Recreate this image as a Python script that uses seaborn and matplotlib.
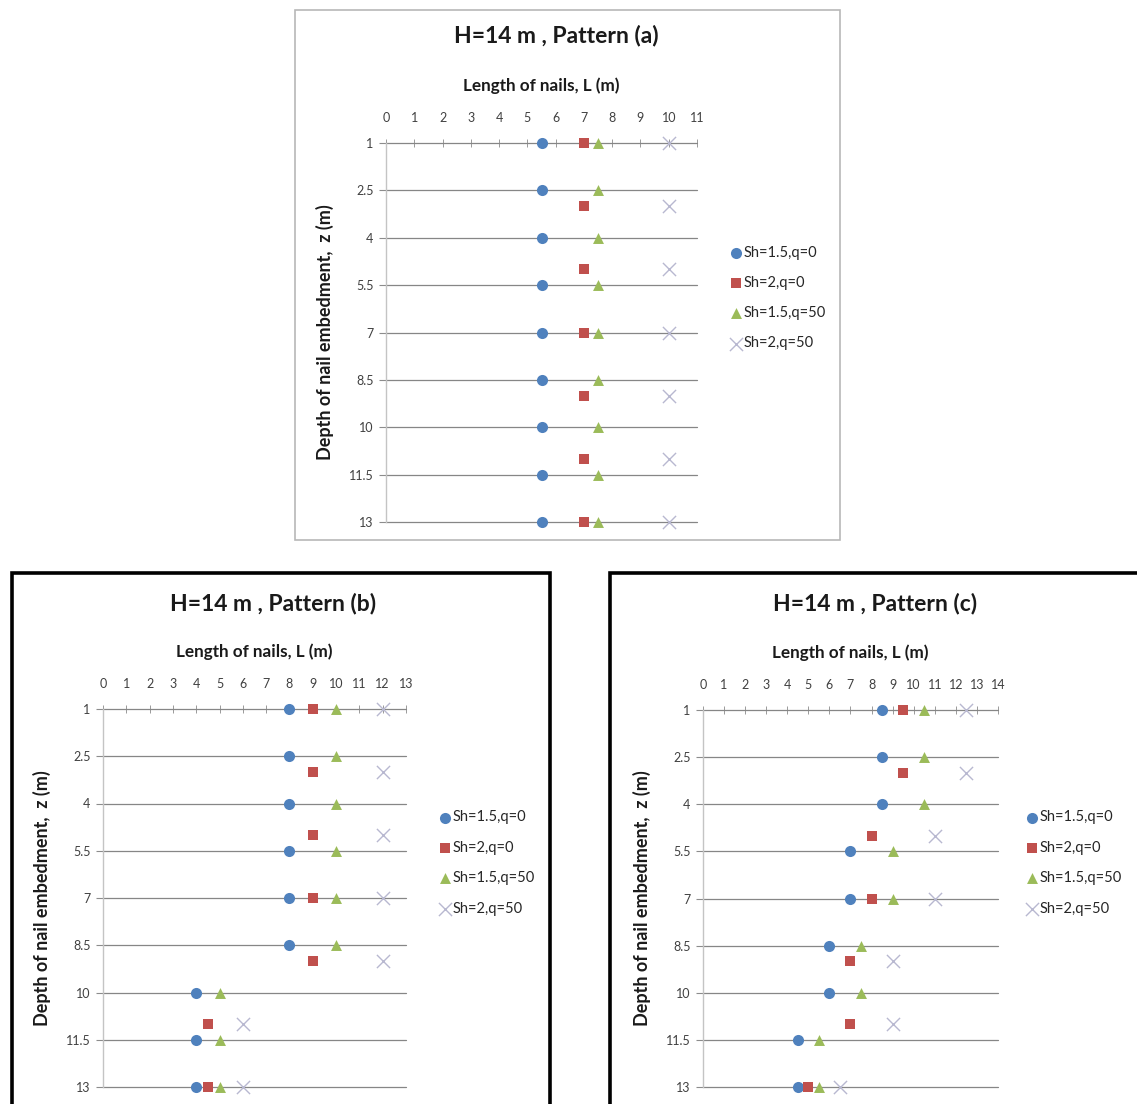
import numpy as np
import pandas as pd
import matplotlib
matplotlib.use('Agg')
import matplotlib.pyplot as plt
from matplotlib.patches import Rectangle
from matplotlib.ticker import FuncFormatter
import seaborn as sns

sns.set_theme(style='white')
plt.rcParams['font.family'] = ['Lato', 'DejaVu Sans']

# depths of the nails (m)
depth_sh15 = [1, 2.5, 4, 5.5, 7, 8.5, 10, 11.5, 13]
depth_sh2 = [1, 3, 5, 7, 9, 11, 13]

# nail lengths (m), pattern (a)
a_sh15_q0 = [5.5, 5.5, 5.5, 5.5, 5.5, 5.5, 5.5, 5.5, 5.5]
a_sh2_q0 = [7, 7, 7, 7, 7, 7, 7]
a_sh15_q50 = [7.5, 7.5, 7.5, 7.5, 7.5, 7.5, 7.5, 7.5, 7.5]
a_sh2_q50 = [10, 10, 10, 10, 10, 10, 10]

# pattern (b)
b_sh15_q0 = [8, 8, 8, 8, 8, 8, 4, 4, 4]
b_sh2_q0 = [9, 9, 9, 9, 9, 4.5, 4.5]
b_sh15_q50 = [10, 10, 10, 10, 10, 10, 5, 5, 5]
b_sh2_q50 = [12, 12, 12, 12, 12, 6, 6]

# pattern (c)
c_sh15_q0 = [8.5, 8.5, 8.5, 7, 7, 6, 6, 4.5, 4.5]
c_sh2_q0 = [9.5, 9.5, 8, 8, 7, 7, 5]
c_sh15_q50 = [10.5, 10.5, 10.5, 9, 9, 7.5, 7.5, 5.5, 5.5]
c_sh2_q50 = [12.5, 12.5, 11, 11, 9, 9, 6.5]

series_labels = ['Sh=1.5,q=0', 'Sh=2,q=0', 'Sh=1.5,q=50', 'Sh=2,q=50']
series_depths = [depth_sh15, depth_sh2, depth_sh15, depth_sh2]
series_style = [
    dict(marker='o', color='#4F81BD', s=64, linewidth=0),
    dict(marker='s', color='#C0504D', s=44, linewidth=0),
    dict(marker='^', color='#9BBB59', s=62, linewidth=0),
    dict(marker='x', color='#B8B8D0', s=90, linewidth=1.0),
]

W, H = 1137, 1104


def rect(l, t, r, b):
    return [l / W, 1 - b / H, (r - l) / W, (b - t) / H]


panels = [
    dict(title='H=14 m , Pattern (a)', title_xy=(556, 35), xmax=11,
         axes=(386, 143, 697, 522), legend_xy=(732, 298),
         lengths=[a_sh15_q0, a_sh2_q0, a_sh15_q50, a_sh2_q50]),
    dict(title='H=14 m , Pattern (b)', title_xy=(273, 604), xmax=13,
         axes=(103, 709, 406, 1087), legend_xy=(441, 863),
         lengths=[b_sh15_q0, b_sh2_q0, b_sh15_q50, b_sh2_q50]),
    dict(title='H=14 m , Pattern (c)', title_xy=(875, 604), xmax=14,
         axes=(703, 710, 998, 1087), legend_xy=(1028, 863),
         lengths=[c_sh15_q0, c_sh2_q0, c_sh15_q50, c_sh2_q50]),
]

fig = plt.figure(figsize=(W / 100, H / 100), dpi=100)
fig.patch.set_facecolor('white')

# chart frames
fig.patches.append(Rectangle((295 / W, 1 - 540 / H), 545 / W, 530 / H, transform=fig.transFigure,
                             facecolor='white', edgecolor='#b8b8b8', lw=1.2, zorder=-5))
fig.patches.append(Rectangle((12 / W, 1 - 1130 / H), 538 / W, 557 / H, transform=fig.transFigure,
                             facecolor='white', edgecolor='black', lw=2.6, zorder=-5))
fig.patches.append(Rectangle((610 / W, 1 - 1130 / H), 560 / W, 557 / H, transform=fig.transFigure,
                             facecolor='white', edgecolor='black', lw=2.6, zorder=-5))

for p in panels:
    l, t, r, b = p['axes']
    ax = fig.add_axes(rect(l, t, r, b))
    ax.set_zorder(2)
    ax.patch.set_alpha(0)
    for lab, dep, lens, st in zip(series_labels, series_depths, p['lengths'], series_style):
        df = pd.DataFrame({'L': lens, 'z': dep})
        sns.scatterplot(data=df, x='L', y='z', label=lab, ax=ax, clip_on=False, zorder=5, **st)

    ax.set_xlim(0, p['xmax'])
    ax.set_ylim(13, 1)
    ax.set_xticks(range(0, p['xmax'] + 1))
    ax.set_yticks(depth_sh15)
    ax.yaxis.set_major_formatter(FuncFormatter(lambda v, pos: f'{v:g}'))
    ax.xaxis.tick_top()
    ax.tick_params(axis='x', top=True, bottom=False, labeltop=True, labelbottom=False,
                   direction='inout', length=6, width=0.7, color='#9a9a9a',
                   labelsize=9, labelcolor='#404040', pad=11)
    ax.tick_params(axis='y', left=True, direction='out', length=5, width=0.8,
                   color='#8c8c8c', labelsize=9, labelcolor='#404040', pad=4)
    ax.yaxis.grid(True, color='#868686', lw=0.9)
    for gl in ax.get_ygridlines():
        gl.set_clip_on(False)
    ax.xaxis.grid(False)
    for side in ['top', 'right', 'bottom']:
        ax.spines[side].set_visible(False)
    ax.spines['left'].set_color('#c4c4c4')
    ax.spines['left'].set_linewidth(1.0)

    ax.set_xlabel('Length of nails, L (m)', fontsize=12.3, fontweight='bold', color='#1a1a1a', va='center')
    ax.xaxis.set_label_position('top')
    ax.xaxis.set_label_coords(0.5, (b - (t - 52)) / (b - t))
    ax.set_ylabel('Depth of nail embedment,  z (m)', fontsize=13, fontweight='bold', color='#1a1a1a', va='center')
    ax.yaxis.set_label_coords(-(61 / (r - l)), 0.5)

    fig.text(p['title_xy'][0] / W, 1 - p['title_xy'][1] / H, p['title'], ha='center', va='center',
             fontsize=16.5, fontweight='bold', color='#1a1a1a')

    handles, labels = ax.get_legend_handles_labels()
    ax.legend(handles, labels, loc='center left',
              bbox_to_anchor=(p['legend_xy'][0] / W, 1 - p['legend_xy'][1] / H),
              bbox_transform=fig.transFigure, frameon=False, fontsize=10.5,
              handlelength=0.6, handletextpad=0.2, labelspacing=1.12, borderpad=0,
              borderaxespad=0, labelcolor='#262626')

plt.savefig('out.png', dpi=100)
plt.close()
